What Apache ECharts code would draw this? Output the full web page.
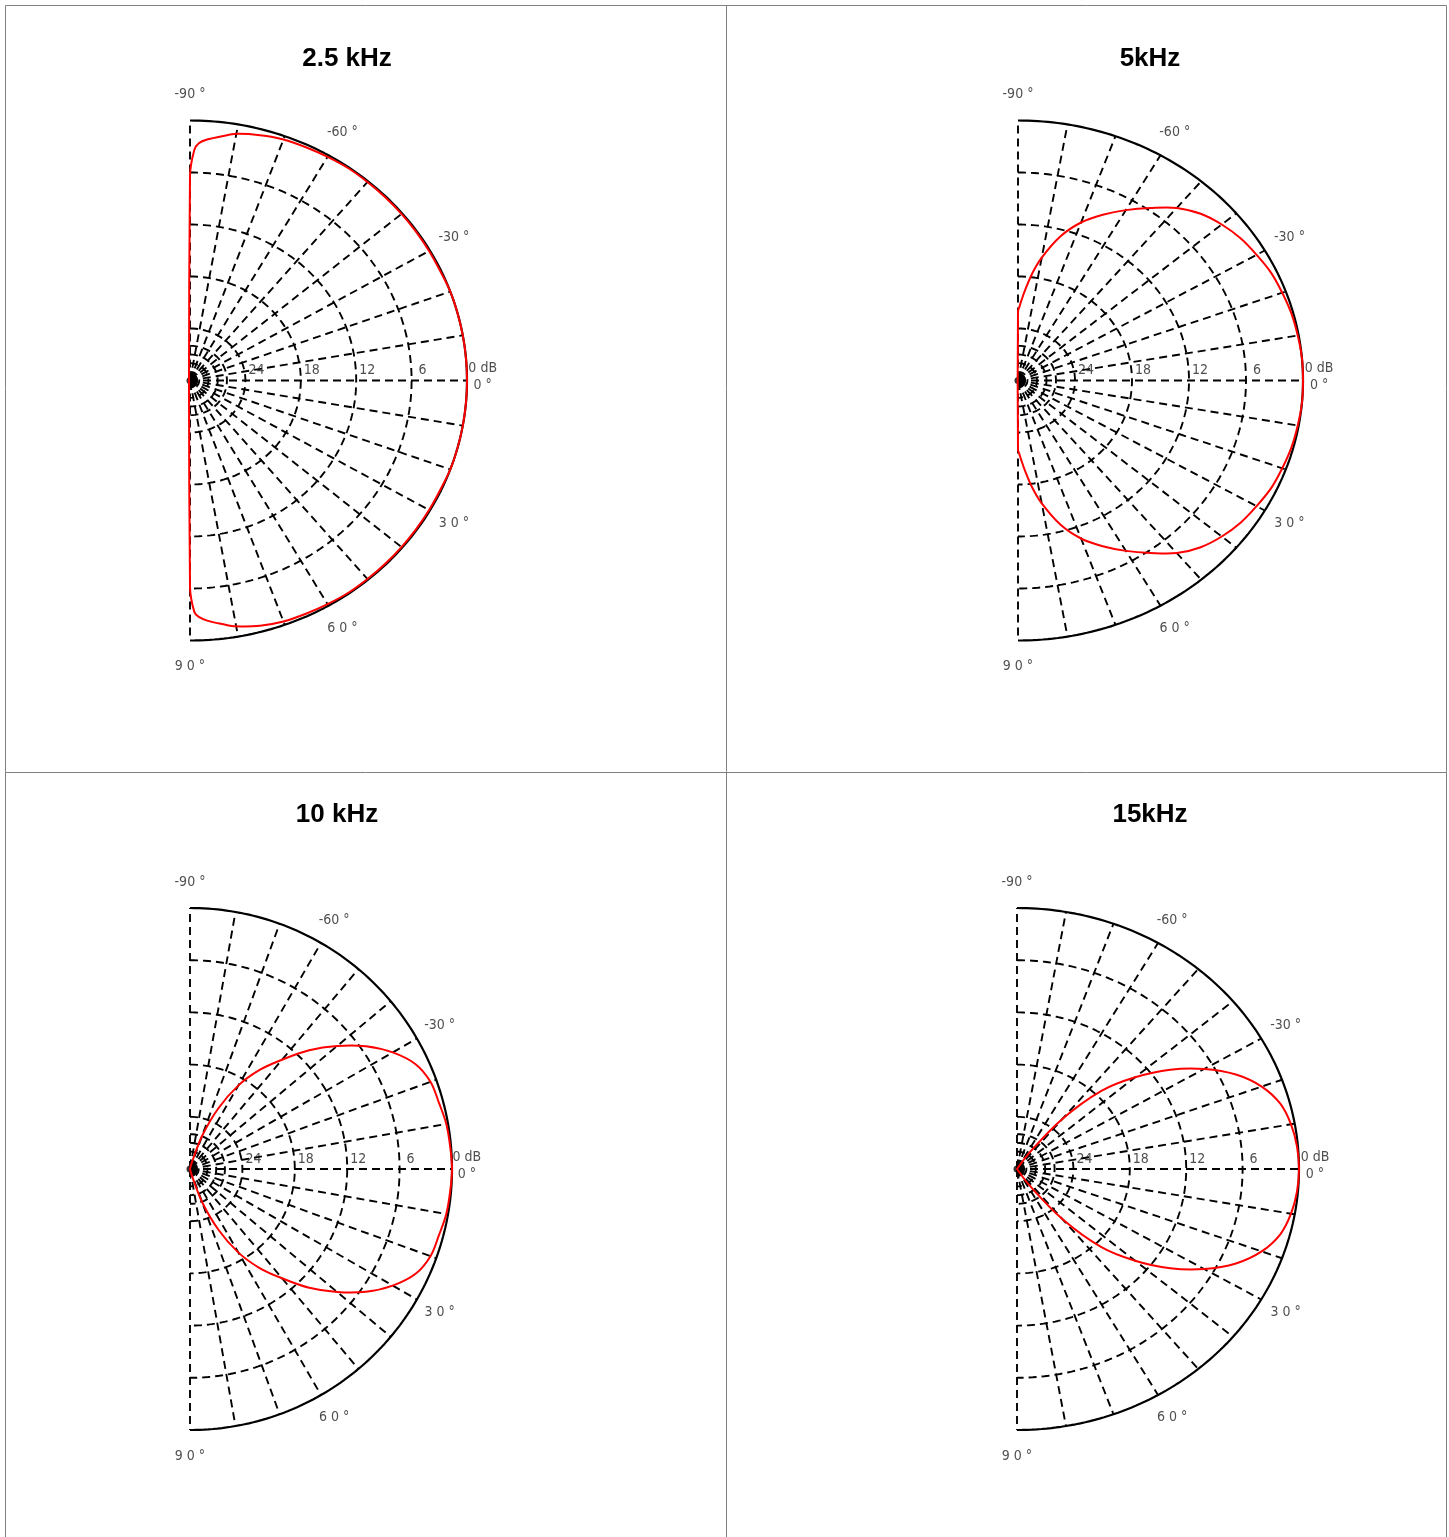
<!DOCTYPE html>
<html><head><meta charset="utf-8">
<script src="https://cdn.jsdelivr.net/npm/echarts@6/dist/echarts.min.js"></script>
<style>html,body{margin:0;padding:0;background:#fff}#c{width:1449px;height:1537px}</style>
</head><body><div id="c"></div>
<script>
// ---- data (angle in degrees, level in dB relative to on-axis) ----
const angles = [-90,-89,-88,-86,-83,-80,-75,-70,-65,-60,-55,-50,-45,-40,-35,-30,-25,-20,-15,-10,-5,
  0,
  5,10,15,20,25,30,35,40,45,50,55,60,65,70,75,80,83,86,88,89,90];
const titles = ['2.5 kHz', '5kHz', '10 kHz', '15kHz'];
const db2500 = [-6.4,-3.4,-2.6,-2.1,-1.6,-1.1,-0.7,-0.4,-0.3,-0.2,-0.1,-0.1,-0.1,-0.1,-0.1,-0.1,-0.1,0,0,0,0,
  0,
  0,0,0,0,-0.1,-0.1,-0.1,-0.1,-0.1,-0.1,-0.1,-0.2,-0.3,-0.4,-0.7,-1.2,-1.7,-2.2,-2.7,-3.3,-6.2];
const db5000 = [-22.0,-21.5,-20.9,-19.6,-17.5,-15.6,-12.8,-10.6,-8.9,-7.3,-5.7,-4.0,-2.8,-2.0,-1.4,-1.0,-0.6,-0.4,-0.2,-0.1,0,
  0,
  0,-0.1,-0.2,-0.4,-0.6,-1.0,-1.4,-2.0,-2.8,-4.0,-5.7,-7.3,-8.9,-10.6,-12.8,-15.6,-17.5,-19.6,-20.9,-21.5,-22.0];
const db10000 = [-30,-30,-30,-30,-30,-30,-29.4,-26.0,-22.3,-18.9,-16.1,-13.6,-10.7,-8.0,-5.4,-3.2,-1.5,-0.7,-0.5,-0.2,-0.1,
  0,
  -0.1,-0.2,-0.5,-0.7,-1.5,-3.2,-5.4,-8.0,-10.7,-13.6,-16.1,-18.9,-22.3,-26.0,-29.4,-30,-30,-30,-30,-30,-30];
const db15000 = [-30,-30,-30,-30,-30,-30,-30,-30,-30,-30,-27.8,-22.5,-17.3,-13.6,-10.1,-7.0,-4.3,-2.3,-1.0,-0.4,-0.1,
  0,
  -0.1,-0.4,-1.0,-2.3,-4.3,-7.0,-10.1,-13.6,-17.3,-22.5,-27.8,-30,-30,-30,-30,-30,-30,-30,-30,-30,-30];
const ringLevels = [-6, -12, -18, -24, -26, -27, -28, -29];   // dashed circles
const ringLabels = ['6', '12', '18', '24'];
const ringLabelLevels = [-6, -12, -18, -24];
const spokeAngles = [-90,-80,-70,-60,-50,-40,-30,-20,-10,0,10,20,30,40,50,60,70,80,90];
const angleLabelAngles = [-90, -60, -30, 30, 60, 90];
const angleLabelTexts = ['-90', '-60', '-30', '3 0', '6 0', '9 0'];
const RANGE = 30; // dB span from centre to outer circle

// ---- layout ----
const panels = [
  {cx: 190,  cy: 380.5, rx: 277, ry: 260, tx: 347,  ty: 59,  db: db2500},
  {cx: 1018, cy: 380.5, rx: 285, ry: 260, tx: 1150, ty: 59,  db: db5000},
  {cx: 190,  cy: 1169,  rx: 262, ry: 261, tx: 337,  ty: 815, db: db10000},
  {cx: 1017, cy: 1169,  rx: 282, ry: 261, tx: 1150, ty: 815, db: db15000}
];
const NARROW = '"Liberation Sans Narrow","Arial Narrow","DejaVu Sans Condensed",sans-serif';
const LABEL_COLOR = '#222';

function pol(r, deg) {
  const t = deg * Math.PI / 180;
  return [r * Math.cos(t), r * Math.sin(t)];
}
function arc(r) {
  const pts = [];
  for (let a = -90; a <= 90; a += 1) pts.push(pol(r, a));
  return pts;
}

const grids = [], xAxes = [], yAxes = [], series = [];
panels.forEach((p, i) => {
  grids.push({left: p.cx, top: p.cy - p.ry, width: p.rx, height: 2 * p.ry});
  xAxes.push({gridIndex: i, type: 'value', min: 0, max: RANGE, show: false});
  yAxes.push({gridIndex: i, type: 'value', min: -RANGE, max: RANGE, inverse: true, show: false});
  const base = {xAxisIndex: i, yAxisIndex: i, type: 'line', symbol: 'none', silent: true, clip: false, animation: false};
  // spokes
  spokeAngles.forEach(a => {
    series.push(Object.assign({}, base, {
      data: [[0, 0], pol(RANGE, a)],
      lineStyle: {color: '#000', width: 1.9, type: [8, 5]}, z: 2
    }));
  });
  // dashed rings
  ringLevels.forEach(lv => {
    series.push(Object.assign({}, base, {
      data: arc(RANGE + lv),
      lineStyle: {color: '#000', width: 1.9, type: [8, 5]}, z: 2
    }));
  });
  // outer 0 dB circle
  series.push(Object.assign({}, base, {
    data: arc(RANGE),
    lineStyle: {color: '#000', width: 2.2}, z: 3
  }));
  // measured response: closed smooth curve through the data points
  const curve = angles.map((a, k) => pol(RANGE + p.db[k], a));
  series.push({
    type: 'custom', xAxisIndex: i, yAxisIndex: i, coordinateSystem: 'cartesian2d',
    silent: true, animation: false, clip: false, z: 5,
    data: curve,
    renderItem: function (params, api) {
      if (params.dataIndex !== 0) return null;
      const pts = curve.map(c => api.coord(c));
      return {
        type: 'polygon',
        shape: {points: pts, smooth: 0.35},
        style: {fill: null, stroke: '#ff0000', lineWidth: 2}
      };
    }
  });
  // centre dot
  series.push({type: 'scatter', xAxisIndex: i, yAxisIndex: i, clip: false, silent: true, animation: false,
    symbolSize: 7, itemStyle: {color: '#000'}, data: [[0, 0]], z: 4});
  // text labels
  const lab = [];
  angleLabelAngles.forEach((a, k) => {
    lab.push({value: pol(33, a), label: {formatter: angleLabelTexts[k] + ' °'}});
  });
  lab.push({value: pol(31.7, 0), label: {formatter: '0 dB', offset: [0, -12]}});
  lab.push({value: pol(31.7, 0), label: {formatter: '0 °', offset: [0, 5]}});
  ringLabelLevels.forEach((lv, k) => {
    lab.push({value: [RANGE + lv, 0], label: {formatter: ringLabels[k], offset: [11, -10]}});
  });
  series.push({type: 'scatter', xAxisIndex: i, yAxisIndex: i, clip: false, silent: true, animation: false,
    symbol: 'circle', symbolSize: 1, itemStyle: {color: 'rgba(0,0,0,0)'}, z: 6,
    label: {show: true, position: 'inside', color: LABEL_COLOR, fontSize: 14, fontFamily: NARROW},
    data: lab});
});

const graphic = [];
// panel borders
const BC = '#808080';
[[5.5, 5.5, 1446.5, 5.5], [5.5, 772.5, 1446.5, 772.5],
 [5.5, 5.5, 5.5, 1537], [726.5, 5.5, 726.5, 1537], [1446.5, 5.5, 1446.5, 1537]].forEach(s => {
  graphic.push({type: 'line', silent: true, shape: {x1: s[0], y1: s[1], x2: s[2], y2: s[3]},
    style: {stroke: BC, lineWidth: 1}});
});
panels.forEach((p, i) => {
  graphic.push({type: 'text', silent: true, x: p.tx, y: p.ty,
    style: {text: titles[i], fill: '#000', font: 'bold 26px "Liberation Sans", Arial, sans-serif',
      textAlign: 'center', textVerticalAlign: 'middle'}});
});

const chart = echarts.init(document.getElementById('c'));
chart.setOption({
  animation: false,
  grid: grids, xAxis: xAxes, yAxis: yAxes, series: series, graphic: graphic
});
</script></body></html>
